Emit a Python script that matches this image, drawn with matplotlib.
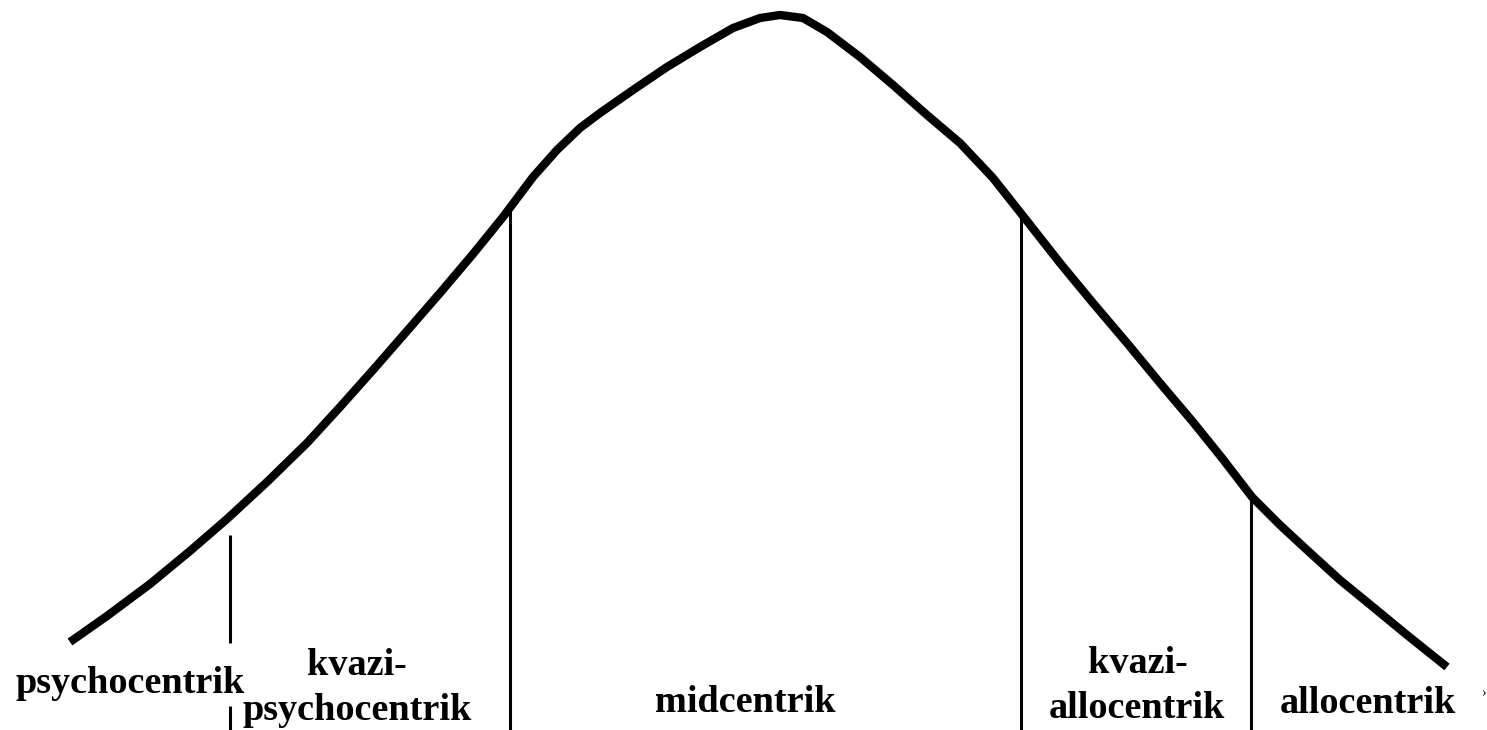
import matplotlib.pyplot as plt

# curve (pixel coordinates, y downwards)
curve_x = [70, 107, 150, 190, 227, 267, 307, 340, 373, 407, 440, 473, 503, 533,
           557, 580, 600, 633, 667, 700, 733, 760, 780, 803, 827, 860, 893, 927,
           960, 993, 1027, 1060, 1093, 1127, 1160, 1193, 1222, 1252, 1280, 1307,
           1340, 1373, 1407, 1447]
curve_y = [642, 616, 584, 551, 519, 482, 443, 407, 370, 331, 293, 254, 217, 177,
           150, 128, 113, 90, 67, 47, 28, 18, 15, 18, 32, 57, 85, 115,
           143, 178, 221, 263, 303, 343, 383, 422, 458, 497, 525, 550,
           580, 607, 635, 667]

# dividing lines: x, top, bottom
div_x = [230, 510, 1021, 1251]
div_top = [535, 210, 218, 500]
div_bottom = [643, 730, 730, 730]

# label lines: text, centre x, baseline y
label_txt = ['psychocentrik', 'kvazi-', 'psychocentrik', 'midcentrik',
             'kvazi-', 'allocentrik', 'allocentrik']
label_x = [130, 357, 357, 745, 1138, 1137, 1368]
label_y = [693, 675, 720, 712, 673, 718, 713]

fig = plt.figure(figsize=(14.87, 7.30), dpi=100)
ax = fig.add_axes([0, 0, 1, 1])
ax.set_xlim(0, 1487)
ax.set_ylim(730, 0)
ax.axis('off')

ax.plot(curve_x, curve_y, color='black', lw=6, solid_capstyle='butt', solid_joinstyle='round')

for x, t, b in zip(div_x, div_top, div_bottom):
    ax.plot([x, x], [t, b], color='black', lw=2.2, solid_capstyle='butt')
# short stub under the first label
ax.plot([230, 230], [706, 730], color='black', lw=2.2, solid_capstyle='butt')

for txt, x, y in zip(label_txt, label_x, label_y):
    ax.text(x, y, txt, ha='center', va='baseline', fontsize=27.5, fontweight='bold',
            family='Liberation Serif')

# stray mark at the right edge
ax.text(1483, 697, '\u203a', ha='center', va='baseline', fontsize=10, family='Liberation Serif')

fig.savefig('out.png', dpi=100)
plt.close()
